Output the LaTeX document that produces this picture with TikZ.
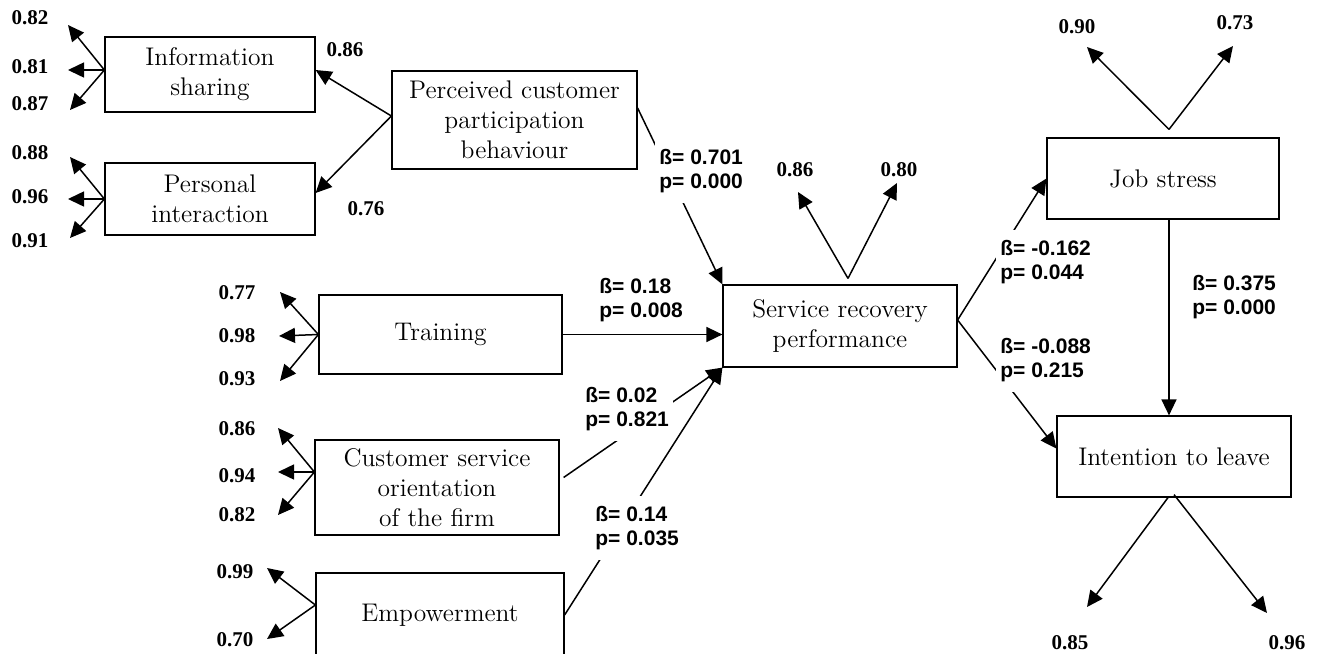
\documentclass[tikz,border=0pt]{standalone}
\usepackage{fontspec}
\newfontfamily\loadfont{Liberation Serif}
\newfontfamily\coeffont{Liberation Sans}
\usetikzlibrary{arrows.meta}

\begin{document}
\begin{tikzpicture}[x=0.5pt, y=-0.5pt,
    construct/.style={draw, line width=0.6pt, inner sep=0pt, align=center,
      font=\fontsize{12.75}{15}\selectfont},
    loading/.style={inner sep=0pt, font=\loadfont\bfseries\fontsize{10.5}{12}\selectfont},
    coef/.style={fill=white, anchor=west, align=left, inner xsep=2pt, inner ysep=5pt,
      font=\coeffont\bfseries\fontsize{10.5}{12}\selectfont},
    link/.style={line width=0.75pt, -{Triangle[length=8pt,width=7.5pt]}},
    plain/.style={line width=0.75pt}]

  % Page frame
  \useasboundingbox (0,0) rectangle (1319,654);

  % Constructs
  \node[construct, minimum width=105pt, minimum height=37.5pt] (info) at (210,74.5) {Information\\sharing};
  \node[construct, minimum width=105pt, minimum height=36pt] (pers) at (210,199) {Personal\\interaction};
  \node[construct, minimum width=122.5pt, minimum height=49pt] (pcpb) at (514.5,120) {Perceived customer\\participation\\behaviour};
  \node[construct, minimum width=121.5pt, minimum height=39.5pt] (train) at (440.5,334.5) {Training};
  \node[construct, minimum width=122pt, minimum height=47.5pt] (cso) at (437,487.5) {Customer service\\orientation\\of the firm};
  \node[construct, minimum width=124pt, minimum height=42pt] (emp) at (440,615) {Empowerment};
  \node[construct, minimum width=117pt, minimum height=41pt] (srp) at (840,326) {Service recovery\\performance};
  \node[construct, minimum width=116pt, minimum height=40.5pt] (js) at (1163,178.5) {Job stress};
  \node[construct, minimum width=117pt, minimum height=40.5pt] (itl) at (1174,456.5) {Intention to leave};

  % Indicators of information sharing
  \coordinate (infoout) at ([yshift=2.25pt]info.west);
  \coordinate (infoa) at (68,25);
  \coordinate (infob) at (68,70);
  \coordinate (infoc) at (70,110);
  \draw[link] (infoout) -- (infoa);
  \draw[link] (infoout) -- (infob);
  \draw[link] (infoout) -- (infoc);
  \node[loading] (infoal) at (30,18) {0.82};
  \node[loading] (infobl) at (30,67) {0.81};
  \node[loading] (infocl) at (30,104) {0.87};

  % Indicators of personal interaction
  \coordinate (persa) at (70,157);
  \coordinate (persb) at (68,199);
  \coordinate (persc) at (70,238);
  \draw[link] (pers.west) -- (persa);
  \draw[link] (pers.west) -- (persb);
  \draw[link] (pers.west) -- (persc);
  \node[loading] (persal) at (30,153) {0.88};
  \node[loading] (persbl) at (30,197) {0.96};
  \node[loading] (perscl) at (30,241) {0.91};

  % Second order construct and its two dimensions
  \coordinate (pcpbout) at ([yshift=2pt]pcpb.west);
  \draw[link] (pcpbout) -- ([yshift=2.25pt]info.east);
  \draw[link] (pcpbout) -- ([yshift=3pt]pers.east);
  \node[loading] (infow) at (345,50) {0.86};
  \node[loading] (persw) at (366,209) {0.76};

  % Indicators of training
  \coordinate (traina) at (280,292);
  \coordinate (trainb) at (279,336);
  \coordinate (trainc) at (280,381);
  \draw[link] (train.west) -- (traina);
  \draw[link] (train.west) -- (trainb);
  \draw[link] (train.west) -- (trainc);
  \node[loading] (trainal) at (237,293) {0.77};
  \node[loading] (trainbl) at (237,336) {0.98};
  \node[loading] (traincl) at (237,379) {0.93};

  % Indicators of customer service orientation
  \coordinate (csoout) at ([yshift=7.75pt]cso.west);
  \coordinate (csoa) at (278,428);
  \coordinate (csob) at (278,472);
  \coordinate (csoc) at (278,515);
  \draw[link] (csoout) -- (csoa);
  \draw[link] (csoout) -- (csob);
  \draw[link] (csoout) -- (csoc);
  \node[loading] (csoal) at (237,429) {0.86};
  \node[loading] (csobl) at (237,476) {0.94};
  \node[loading] (csocl) at (237,515) {0.82};

  % Indicators of empowerment
  \coordinate (empout) at ([yshift=5pt]emp.west);
  \coordinate (empa) at (267,568);
  \coordinate (empb) at (267,639);
  \draw[link] (empout) -- (empa);
  \draw[link] (empout) -- (empb);
  \node[loading] (empal) at (235,572) {0.99};
  \node[loading] (empbl) at (235,640) {0.70};

  % Indicators of service recovery performance
  \coordinate (srpout) at ([xshift=4pt, yshift=3pt]srp.north);
  \coordinate (srpa) at (798,192);
  \coordinate (srpb) at (897,183);
  \draw[link] (srpout) -- (srpa);
  \draw[link] (srpout) -- (srpb);
  \node[loading] (srpal) at (795,170) {0.86};
  \node[loading] (srpbl) at (899,170) {0.80};

  % Indicators of job stress
  \coordinate (jsout) at ([xshift=3pt, yshift=4pt]js.north);
  \coordinate (jsa) at (1087,47);
  \coordinate (jsb) at (1233,46);
  \draw[link] (jsout) -- (jsa);
  \draw[link] (jsout) -- (jsb);
  \node[loading] (jsal) at (1077,27) {0.90};
  \node[loading] (jsbl) at (1235,23) {0.73};

  % Indicators of intention to leave
  \coordinate (itlouta) at ([xshift=-3pt]itl.south);
  \coordinate (itloutb) at ([yshift=1.5pt]itl.south);
  \coordinate (itla) at (1087,607);
  \coordinate (itlb) at (1267,613);
  \draw[link] (itlouta) -- (itla);
  \draw[link] (itloutb) -- (itlb);
  \node[loading] (itlal) at (1070,643) {0.85};
  \node[loading] (itlbl) at (1287,643) {0.96};

  % Structural paths into service recovery performance
  \draw[link] ([yshift=6pt]pcpb.east) -- (srp.north west);
  \draw[link] (train.east) -- (train.east -| srp.west);
  \draw[link] (emp.east) -- (srp.south west);
  \draw[link] ([xshift=2pt, yshift=5pt]cso.east) -- (srp.south west);

  % Structural paths out of service recovery performance
  \coordinate (srpright) at ([yshift=3pt]srp.east);
  \draw[link] (srpright) -- (js.west);
  \draw[link] (srpright) -- ([yshift=4pt]itl.west);
  \coordinate (jsdown) at ([xshift=3pt]js.south);
  \draw[link] (jsdown) -- (jsdown |- itl.north);

  % Path coefficients
  \node[coef] (bpcpb) at (655,171) {ß= 0.701\\p= 0.000};
  \node[coef] (btrain) at (595,300) {ß= 0.18\\p= 0.008};
  \node[coef] (bcso) at (581,409) {ß= 0.02\\p= 0.821};
  \node[coef] (bemp) at (591,528) {ß= 0.14\\p= 0.035};
  \node[coef] (bjs) at (996,262) {ß= -0.162\\p= 0.044};
  \node[coef] (bitl) at (996,360) {ß= -0.088\\p= 0.215};
  \node[coef] (bstress) at (1188,297) {ß= 0.375\\p= 0.000};
\end{tikzpicture}
\end{document}
